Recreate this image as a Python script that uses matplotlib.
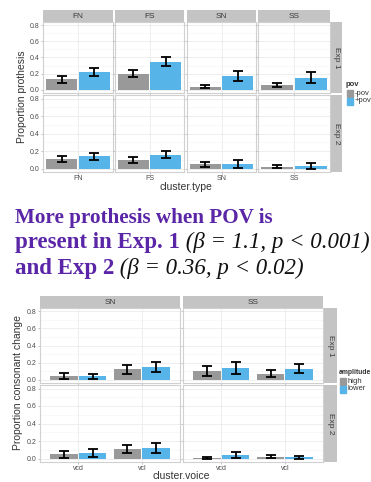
import matplotlib
matplotlib.use("Agg")
import matplotlib.pyplot as plt
from matplotlib.patches import Rectangle

W, H = 371, 482

# prothesis by cluster type (top figure)
cluster_types = ["FN", "FS", "SN", "SS"]
pov_levels    = ["-pov", "+pov"]
prot_exp1_minus     = [0.13, 0.20, 0.04, 0.06]
prot_exp1_plus      = [0.22, 0.35, 0.17, 0.15]
prot_exp1_minus_err = [0.04, 0.045, 0.02, 0.03]
prot_exp1_plus_err  = [0.05, 0.05, 0.065, 0.065]
prot_exp2_minus     = [0.11, 0.10, 0.05, 0.02]
prot_exp2_plus      = [0.14, 0.16, 0.05, 0.03]
prot_exp2_minus_err = [0.035, 0.035, 0.03, 0.015]
prot_exp2_plus_err  = [0.04, 0.045, 0.045, 0.03]

# consonant change by cluster voicing (bottom figure)
cluster_groups   = ["SN", "SS"]
voicing          = ["vcd", "vcl"]
amplitude_levels = ["high", "lower"]
cc_exp1_high      = [[0.04, 0.12], [0.10, 0.07]]
cc_exp1_lower     = [[0.04, 0.15], [0.14, 0.13]]
cc_exp1_high_err  = [[0.035, 0.05], [0.06, 0.04]]
cc_exp1_lower_err = [[0.03, 0.06], [0.07, 0.055]]
cc_exp2_high      = [[0.05, 0.11], [0.01, 0.02]]
cc_exp2_lower     = [[0.06, 0.12], [0.04, 0.015]]
cc_exp2_high_err  = [[0.04, 0.05], [0.01, 0.015]]
cc_exp2_lower_err = [[0.045, 0.055], [0.035, 0.015]]

experiments = ["Exp 1", "Exp 2"]
y_ticks = [0.0, 0.2, 0.4, 0.6, 0.8]

GREY  = "#999999"
BLUE  = "#56B4E9"
STRIP = "#c4c4c4"
TXT   = "#4d4d4d"
FONT  = "Liberation Sans"

plt.rcParams["font.family"] = [FONT, "DejaVu Sans"]

fig = plt.figure(figsize=(W / 100, H / 100), dpi=100)


def px(l, t, r, b):
    return [l / W, 1 - b / H, (r - l) / W, (b - t) / H]


def strip(rect, label, rotation=0):
    sa = fig.add_axes(px(*rect))
    sa.set_facecolor(STRIP)
    sa.set_xticks([]); sa.set_yticks([])
    for s in sa.spines.values():
        s.set_visible(False)
    sa.text(0.5, 0.5, label, transform=sa.transAxes, ha="center", va="center",
            fontsize=6, color="#3a3a3a", rotation=rotation)


def panel(rect, xlim):
    ax = fig.add_axes(px(*rect))
    ax.set_facecolor("white")
    ax.set_xlim(*xlim)
    ax.set_ylim(-0.04, 0.84)
    ax.set_yticks(y_ticks)
    ax.set_yticks([0.1, 0.3, 0.5, 0.7], minor=True)
    ax.grid(True, which="major", color="#ebebeb", linewidth=0.6)
    ax.grid(True, which="minor", axis="y", color="#f4f4f4", linewidth=0.4)
    ax.set_axisbelow(True)
    for s in ax.spines.values():
        s.set_color("#d0d0d0")
        s.set_linewidth(0.8)
    ax.tick_params(length=1.5, width=0.5, color="#aaaaaa", labelsize=5,
                   labelcolor=TXT, pad=1)
    ax.tick_params(which="minor", length=0)
    return ax


def bars(ax, xs, heights, errs, color):
    ax.bar(xs, heights, width=0.43, color=color, edgecolor="none", zorder=2)
    ax.errorbar(xs, heights, yerr=errs, fmt="none", ecolor="black",
                elinewidth=1.3, capsize=3.6, capthick=1.3, zorder=3)


def legend(x, y, title, labels, size=5.5):
    fig.text(x / W, 1 - y / H, title, fontsize=size, fontweight="bold",
             color="#333333", va="center")
    for i, (lab, col) in enumerate(zip(labels, [GREY, BLUE])):
        ky = y + 5 + i * 7.5
        fig.patches.append(Rectangle((x / W + 0.004, 1 - (ky + 7) / H), 6 / W, 7 / H,
                                     transform=fig.transFigure, color=col))
        fig.text((x + 9) / W, 1 - (ky + 3.5) / H, lab, fontsize=5.5,
                 color="#333333", va="center")


# ---- top: proportion prothesis ----
top_cols = [(43, 113), (115, 184), (187, 256), (258, 330)]
top_rows = [(22, 93), (95, 172)]
top_data = [
    (prot_exp1_minus, prot_exp1_plus, prot_exp1_minus_err, prot_exp1_plus_err),
    (prot_exp2_minus, prot_exp2_plus, prot_exp2_minus_err, prot_exp2_plus_err),
]
for j, (l, r) in enumerate(top_cols):
    strip((l, 10, r, 22), cluster_types[j])
for i, (t, b) in enumerate(top_rows):
    strip((331, t, 342, b), experiments[i], rotation=-90)
    mins, plus, mins_e, plus_e = top_data[i]
    for j, (l, r) in enumerate(top_cols):
        ax = panel((l, t, r, b), (0.52, 1.48))
        bars(ax, [0.775], [mins[j]], [mins_e[j]], GREY)
        bars(ax, [1.225], [plus[j]], [plus_e[j]], BLUE)
        ax.set_xticks([1.0])
        ax.set_xticklabels([cluster_types[j]] if i == 1 else [])
        if j > 0:
            ax.set_yticklabels([])
        else:
            ax.set_yticklabels([f"{v:.1f}" for v in y_ticks])

fig.text(186 / W, 1 - 187 / H, "cluster.type", fontsize=7.5, color="#333333",
         ha="center", va="center")
fig.text(22 / W, 1 - 97 / H, "Proportion prothesis", fontsize=7.5, color="#333333",
         ha="center", va="center", rotation=90)
legend(346, 85, "pov", pov_levels)

# ---- middle: result text ----
PURPLE = "#5a25a6"
serif = ["Liberation Serif", "DejaVu Serif"]
lines = [
    [("More prothesis when POV is", PURPLE, "bold", "normal")],
    [("present in Exp. 1", PURPLE, "bold", "normal"),
     (" (\u03b2 = 1.1, p < 0.001)", "#111111", "normal", "italic")],
    [("and Exp 2", PURPLE, "bold", "normal"),
     (" (\u03b2 = 0.36, p < 0.02)", "#111111", "normal", "italic")],
]
baselines = [222.5, 248, 274]
sizes = [15.2, 16.5, 16.5]
renderer = fig.canvas.get_renderer()
for segs, base, size in zip(lines, baselines, sizes):
    x = 15
    for txt, col, wt, st in segs:
        t = fig.text(x / W, 1 - base / H, txt, fontsize=size, color=col,
                     fontweight=wt, fontstyle=st, family=serif, va="baseline")
        x += t.get_window_extent(renderer).width

# ---- bottom: proportion consonant change ----
bot_cols = [(40, 180), (183, 323)]
bot_rows = [(308, 383), (385, 462)]
bot_data = [
    (cc_exp1_high, cc_exp1_lower, cc_exp1_high_err, cc_exp1_lower_err),
    (cc_exp2_high, cc_exp2_lower, cc_exp2_high_err, cc_exp2_lower_err),
]
for j, (l, r) in enumerate(bot_cols):
    strip((l, 296, r, 308), cluster_groups[j])
for i, (t, b) in enumerate(bot_rows):
    strip((324, t, 337, b), experiments[i], rotation=-90)
    hi, lo, hi_e, lo_e = bot_data[i]
    for j, (l, r) in enumerate(bot_cols):
        ax = panel((l, t, r, b), (0.4, 2.6))
        bars(ax, [0.775, 1.775], hi[j], hi_e[j], GREY)
        bars(ax, [1.225, 2.225], lo[j], lo_e[j], BLUE)
        ax.set_xticks([1.0, 2.0])
        ax.set_xticklabels(voicing if i == 1 else [])
        if j > 0:
            ax.set_yticklabels([])
        else:
            ax.set_yticklabels([f"{v:.1f}" for v in y_ticks])

fig.text(181 / W, 1 - 476 / H, "cluster.voice", fontsize=7.5, color="#333333",
         ha="center", va="center")
fig.text(18 / W, 1 - 383 / H, "Proportion consonant change", fontsize=7.5,
         color="#333333", ha="center", va="center", rotation=90)
legend(339, 373, "amplitude", amplitude_levels, size=4.9)

fig.savefig("out.png", dpi=100)
